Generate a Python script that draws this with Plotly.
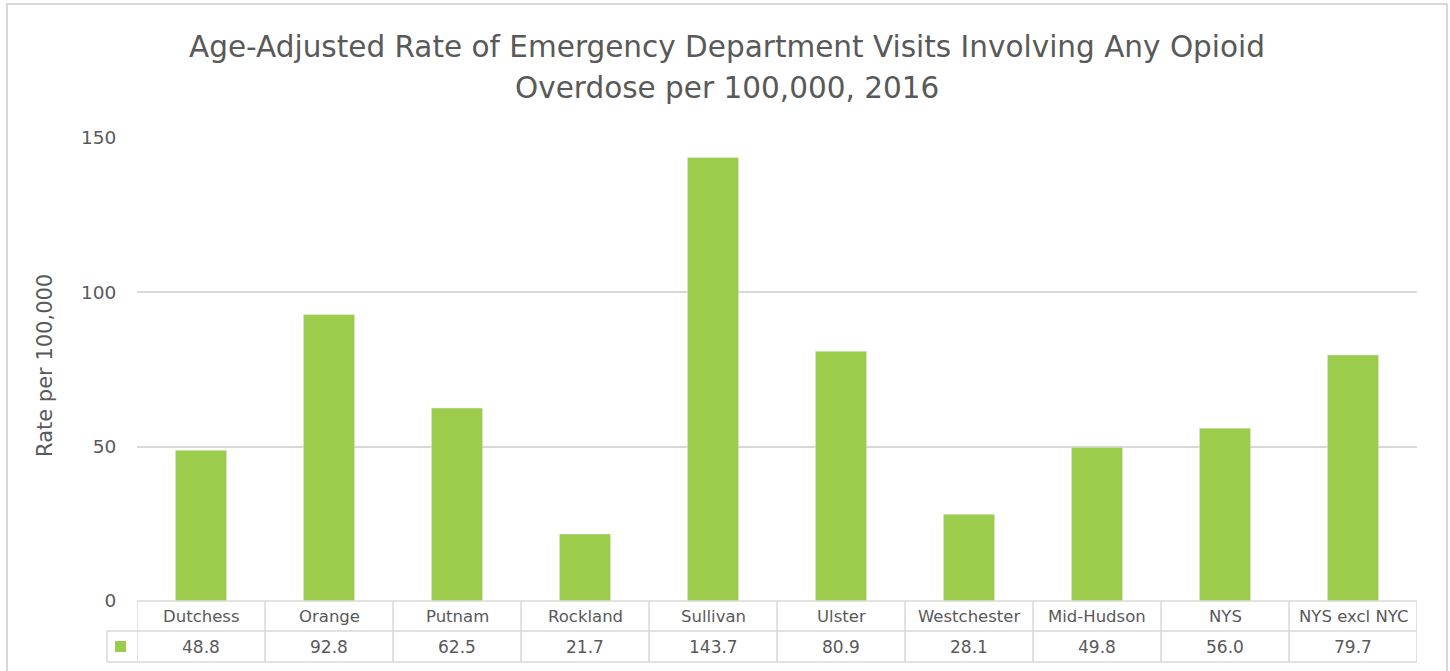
import plotly.graph_objects as go

categories = ["Dutchess", "Orange", "Putnam", "Rockland", "Sullivan", "Ulster",
              "Westchester", "Mid-Hudson", "NYS", "NYS excl NYC"]
values = [48.8, 92.8, 62.5, 21.7, 143.7, 80.9, 28.1, 49.8, 56.0, 79.7]
value_labels = ["48.8", "92.8", "62.5", "21.7", "143.7", "80.9", "28.1", "49.8", "56.0", "79.7"]
y_ticks = [0, 50, 100, 150]
title_lines = ["Age-Adjusted Rate of Emergency Department Visits Involving Any Opioid",
               "Overdose per 100,000, 2016"]

W, H = 1450, 671
L, R, T, B = 137, 1417, 138, 601
GREEN = "#9BCC4B"
GRID = "#D9D9D9"
TXT = "#595959"
FONT = "DejaVu Sans"

def px(xp):
    return (xp - L) / (R - L)

def py(yp):
    return (B - yp) / (B - T)

fig = go.Figure()
fig.add_trace(go.Bar(x=list(range(len(categories))), y=values, marker_color=GREEN,
                     width=0.4, showlegend=False, hoverinfo="x+y"))

n = len(categories)
shapes = []
annotations = []
line = dict(color=GRID, width=1.5)
# chart border
shapes.append(dict(type="rect", xref="paper", yref="paper", x0=px(7), x1=px(1447),
                   y0=py(690), y1=py(4), line=dict(color=GRID, width=2), layer="below"))
# table horizontal lines
row1_top, row1_bot, row2_bot = 601, 631, 662
shapes.append(dict(type="line", xref="x", yref="paper", x0=-0.5, x1=n - 0.5,
                   y0=py(row1_top), y1=py(row1_top), line=line))
shapes.append(dict(type="line", xref="paper", yref="paper", x0=px(107), x1=1,
                   y0=py(row1_bot), y1=py(row1_bot), line=line))
shapes.append(dict(type="line", xref="paper", yref="paper", x0=px(107), x1=1,
                   y0=py(row2_bot), y1=py(row2_bot), line=line))
# vertical lines
for i in range(n + 1):
    shapes.append(dict(type="line", xref="x", yref="paper", x0=i - 0.5, x1=i - 0.5,
                       y0=py(row1_top), y1=py(row2_bot), line=line))
shapes.append(dict(type="line", xref="paper", yref="paper", x0=px(107), x1=px(107),
                   y0=py(row1_bot), y1=py(row2_bot), line=line))
# legend key
shapes.append(dict(type="rect", xref="paper", yref="paper", x0=px(115), x1=px(126),
                   y0=py(652), y1=py(641), fillcolor=GREEN, line=dict(width=0)))

for i, (c, v) in enumerate(zip(categories, value_labels)):
    annotations.append(dict(x=i, y=py(616), xref="x", yref="paper", text=c, showarrow=False,
                            xanchor="center", yanchor="middle",
                            font=dict(size=16.5, color=TXT, family=FONT)))
    annotations.append(dict(x=i, y=py(647), xref="x", yref="paper", text=v, showarrow=False,
                            xanchor="center", yanchor="middle",
                            font=dict(size=17, color=TXT, family=FONT)))

annotations.append(dict(x=px(45), y=py(366), xref="paper", yref="paper", text="Rate per 100,000",
                        textangle=-90, showarrow=False, xanchor="center", yanchor="middle",
                        font=dict(size=21, color=TXT, family=FONT)))
for t, yy in zip(title_lines, [47, 88]):
    annotations.append(dict(x=px(727), y=py(yy), xref="paper", yref="paper", text=t,
                            showarrow=False, xanchor="center", yanchor="middle",
                            font=dict(size=29.5, color=TXT, family=FONT)))

fig.update_layout(
    width=W, height=H,
    margin=dict(l=L, r=W - R, t=T, b=H - B, pad=0),
    paper_bgcolor="white", plot_bgcolor="white",
    font=dict(family=FONT, color=TXT),
    xaxis=dict(range=[-0.5, n - 0.5], showticklabels=False, showgrid=False, zeroline=False,
               showline=False, ticks="", fixedrange=True),
    yaxis=dict(range=[0, 150], tickvals=y_ticks, showgrid=True, gridcolor=GRID, gridwidth=1.5,
               zeroline=False, showline=False, ticks="outside", ticklen=16, tickcolor="rgba(0,0,0,0)",
               tickfont=dict(size=18.5, color=TXT, family=FONT), fixedrange=True),
    shapes=shapes, annotations=annotations, bargap=0.6,
)

fig.write_html("out.html", config={"displayModeBar": False},
               post_script="document.body.style.margin='0';document.body.style.overflow='hidden';")
